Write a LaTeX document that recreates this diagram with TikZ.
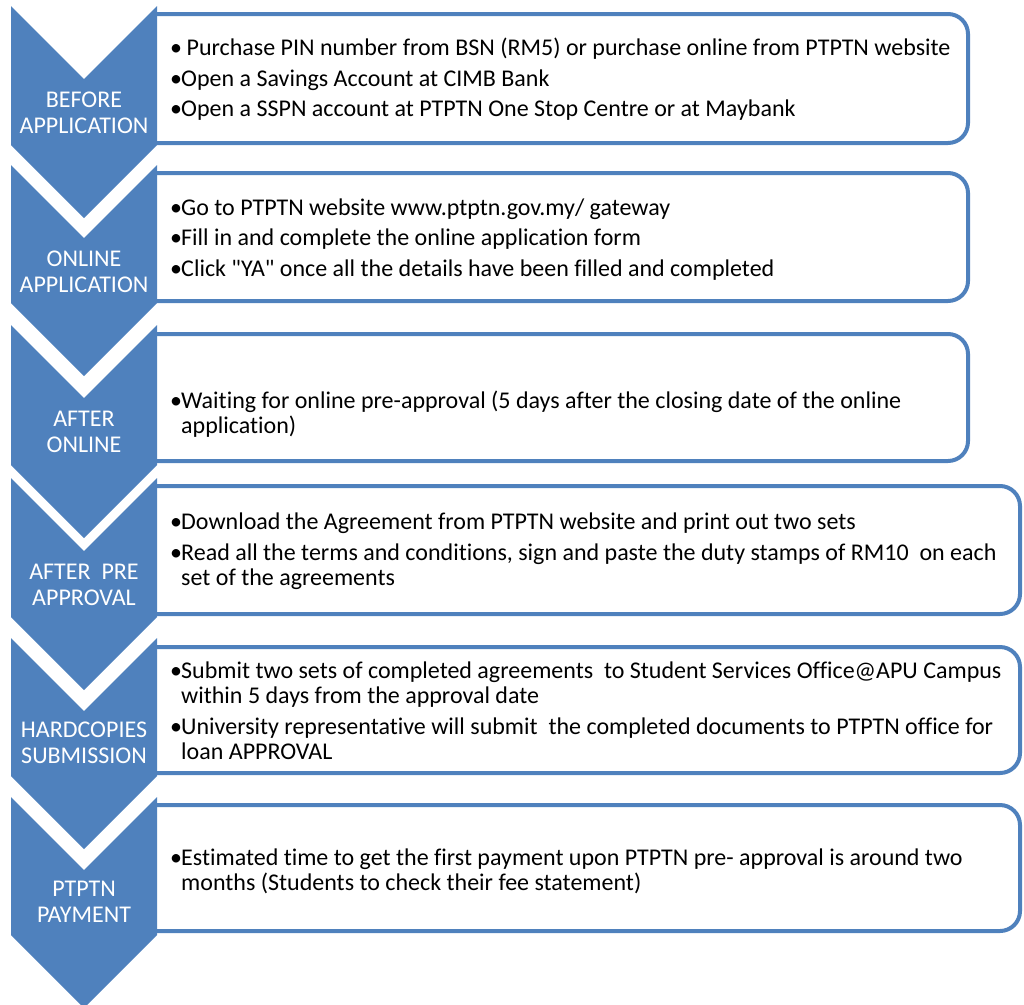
\documentclass[tikz,border=0pt]{standalone}
\usepackage{fontspec}
\setmainfont{Carlito}[Ligatures={TeXOff,CommonOff}]
\definecolor{chev}{HTML}{4F81BD}
\newcommand\bul{\makebox[11pt][l]{\textbullet}}
\newcommand\ind{\hspace*{11pt}}
\begin{document}
\begin{tikzpicture}[x=1pt,y=-1pt,
    stage/.style={fill=chev},
    panel/.style={draw=chev, line width=4pt, rounded corners=20pt, fill=white},
    lbl/.style={text=white, align=center, inner sep=0pt, font=\fontsize{24}{26}\selectfont},
    info/.style={anchor=west, align=left, inner sep=0pt, font=\fontsize{24}{25}\selectfont}]
    \useasboundingbox (0,0) rectangle (1024,1004);
    \def\xl{11} \def\xr{157} \def\xm{84} \def\tipd{73}

    % panels, square on the left where they meet the chevrons
    \begin{scope}
        \clip (155,0) rectangle (1024,1004);
        \draw[panel] (120,14) rectangle (968,143);
        \draw[panel] (120,173) rectangle (968,301);
        \draw[panel] (120,334) rectangle (968,461);
        \draw[panel] (120,486) rectangle (1020,614);
        \draw[panel] (120,647) rectangle (1020,773);
        \draw[panel] (120,805) rectangle (1020,931);
    \end{scope}

    % chevrons
    \foreach \t/\b in {6/145, 165/303, 325/465, 478/617, 638/776, 797/935}
        \fill[stage] (\xl,\t) -- (\xm,\t+\tipd) -- (\xr,\t) -- (\xr,\b) -- (\xm,\b+\tipd) -- (\xl,\b) -- cycle;

    \node[lbl] (before) at (\xm,113) {BEFORE\\APPLICATION};
    \node[lbl] (online) at (\xm,272) {ONLINE\\APPLICATION};
    \node[lbl] (after) at (\xm,431.5) {AFTER\\ONLINE};
    \node[lbl] (pre) at (\xm,585) {AFTER~ PRE\\APPROVAL};
    \node[lbl] (hard) at (\xm,743) {HARDCOPIES\\SUBMISSION};
    \node[lbl] (pay) at (\xm,902) {PTPTN\\PAYMENT};

    \node[info] (t1) at (170,79.5) {\bul\ Purchase PIN number from BSN (RM5) or purchase online from PTPTN website\\[5.5pt]
        \bul Open a Savings Account at CIMB Bank\\[5.5pt]
        \bul Open a SSPN account at PTPTN One Stop Centre or at Maybank};
    \node[info] (t2) at (170,239.5) {\bul Go to PTPTN website www.ptptn.gov.my/ gateway\\[5.5pt]
        \bul Fill in and complete the online application form\\[5.5pt]
        \bul Click "YA" once all the details have been filled and completed};
    \node[info] (t3) at (170,414) {\bul Waiting for online pre-approval (5 days after the closing date of the online\\
        \ind application)};
    \node[info] (t4) at (170,551.5) {\bul Download the Agreement from PTPTN website and print out two sets\\[6pt]
        \bul Read all the terms and conditions, sign and paste the duty stamps of RM10~ on each\\
        \ind set of the agreements};
    \node[info] (t5) at (170,710.5) {\bul Submit two sets of completed agreements~ to Student Services Office@APU Campus\\
        \ind within 5 days from the approval date\\[6.5pt]
        \bul University representative will submit~ the completed documents to PTPTN office for\\
        \ind loan APPROVAL};
    \node[info] (t6) at (170,871) {\bul Estimated time to get the first payment upon PTPTN pre- approval is around two\\
        \ind months (Students to check their fee statement)};
\end{tikzpicture}
\end{document}
